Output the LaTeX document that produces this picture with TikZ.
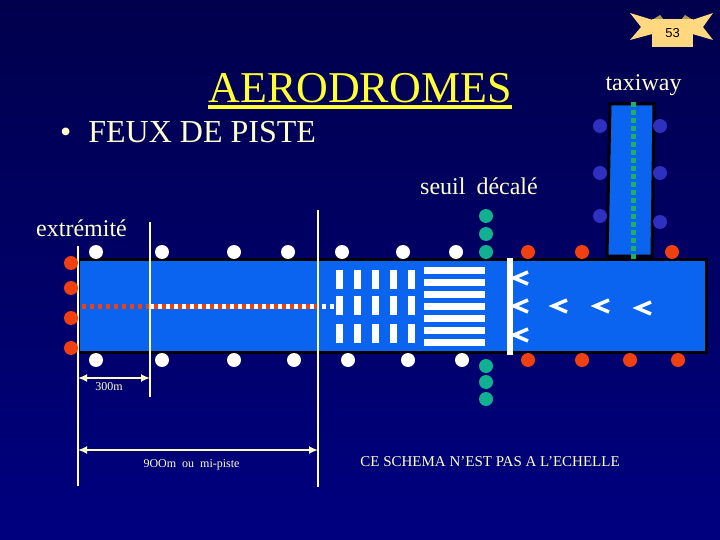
\documentclass[tikz,border=0pt]{standalone}
\usepackage{fontspec}
\setmainfont{Liberation Serif}
\setsansfont{Liberation Sans}
\usetikzlibrary{arrows.meta}
\definecolor{paletop}{HTML}{FFFFCC}
\definecolor{titleyellow}{HTML}{FFFF33}
\definecolor{pistefill}{HTML}{0A64F0}
\definecolor{feurouge}{HTML}{F04010}
\definecolor{feuvert}{HTML}{10B090}
\definecolor{axevert}{HTML}{20B060}
\definecolor{feubleu}{HTML}{3030C0}
\definecolor{ruban}{HTML}{FFD880}
\tikzset{
    label text/.style={text=paletop, inner sep=0pt, font=\fontsize{24}{24}\selectfont},
    small text/.style={text=paletop, inner sep=0pt, font=\fontsize{12}{12}\selectfont},
    feu/.style={circle, minimum size=14pt, inner sep=0pt},
    piste/.style={fill=pistefill, draw=black, line width=3pt},
    repere/.style={draw=paletop, line width=2pt},
    cote/.style={draw=paletop, line width=2pt, {Latex[length=9pt,width=8pt,fill=titleyellow]}-{Latex[length=9pt,width=8pt,fill=titleyellow]}},
    chevron/.style={draw=white, line width=3.5pt}
}
\begin{document}
\begin{tikzpicture}[x=1pt, y=-1pt]

% Helper macro for a row of lights
\newcommand{\feux}[3]{% colour, y, x list
    \foreach \xf in {#3} {
        \node[feu, fill=#1] (f#1\xf) at (\xf,#2) {};
    }
}
% Helper macro for one chevron, tip on the left
\newcommand{\chevronat}[2]{% x, y
    \draw[chevron] (#1+14,#2-6) -- (#1,#2) -- (#1+14,#2+6);
}

% Background
\shade[top color=black!70!blue, bottom color=blue!50!black, middle color=blue!40!black]
    (0,0) rectangle (720,540);
\useasboundingbox (0,0) rectangle (720,540);

% Page banner
\fill[ruban] (630,13) -- (656,21) -- (656,33) -- (630,40) -- (641,27) -- cycle;
\fill[ruban] (713,13) -- (689,21) -- (689,33) -- (713,40) -- (703,27) -- cycle;
\fill[black!30!ruban] (652,20) -- (660,15) -- (664,20) -- cycle;
\fill[black!30!ruban] (693,20) -- (685,15) -- (681,20) -- cycle;
\node[fill=ruban, minimum width=41pt, minimum height=28pt, inner sep=0pt,
      font=\fontsize{13}{13}\sffamily] (numero) at (672.5,33) {53};

% Titles
\node[text=titleyellow, anchor=base, inner sep=0pt, font=\fontsize{44}{44}\selectfont] (titre) at (360,103) {AERODROMES};
\coordinate (u0) at (208,107.5);
\coordinate (u1) at (512,107.5);
\draw[titleyellow, line width=4pt] (u0) -- (u1);
\node[text=paletop, anchor=base west, inner sep=0pt, font=\fontsize{32}{32}\selectfont] (feuxpiste) at (60,143) {•\hspace{17pt}FEUX DE PISTE};

% Taxiway
\draw[piste] (610,104) -- (654,104) -- (652,256) -- (607,256) -- cycle;

% Runway
\draw[piste] (78,259) rectangle (706,352);

% Taxiway centre line
\draw[axevert, line width=5pt, dash pattern=on 5pt off 3pt] (633.5,102) -- (633.5,259);

% Runway centre line
\draw[feurouge, line width=5pt, dash pattern=on 4pt off 4pt] (82,306) -- (150,306);
\draw[white, line width=5pt] (150,306) -- (318,306);
\draw[feurouge, line width=5pt, dash pattern=on 4pt off 4pt] (154,306) -- (318,306);
\draw[white, line width=5pt, dash pattern=on 4pt off 4pt] (322,306) -- (336,306);

% Threshold marks
\foreach \xb in {336,354,372,390,408} {
    \foreach \yb in {270,296,324} {
        \fill[white] (\xb,\yb) rectangle ++(7,19);
    }
}
\foreach \yb in {267,279,291,303,315,327,339} {
    \fill[white] (424,\yb) rectangle ++(61,7);
}
\fill[white] (507,258) rectangle (513,355);

% Chevrons
\chevronat{514}{278}
\chevronat{514}{306}
\chevronat{514}{335}
\chevronat{553}{306}
\chevronat{595}{306}
\chevronat{637}{308}

% Reference lines and dimensions
\coordinate (a0) at (78,246);
\coordinate (a1) at (78,486);
\coordinate (b0) at (150,222);
\coordinate (b1) at (150,397);
\coordinate (c0) at (318,210);
\coordinate (c1) at (318,487);
\draw[repere] (a0) -- (a1);
\draw[repere] (b0) -- (b1);
\draw[repere] (c0) -- (c1);
\coordinate (d0) at (78,378);
\coordinate (d1) at (150,378);
\coordinate (e0) at (78,450);
\coordinate (e1) at (318,450);
\draw[cote] (d0) -- (d1);
\draw[cote] (e0) -- (e1);

% Lights
\feux{white}{252}{96,162,234,288,342,403,456}
\feux{white}{360}{96,162,234,294,348,408,462}
\foreach \yf in {263,288,318,348} {
    \node[feu, fill=feurouge] (g\yf) at (71,\yf) {};
}
\feux{feurouge}{252}{528,582,672}
\feux{feurouge}{360}{528,582,630,678}
\foreach \yf in {216,234,252} {
    \node[feu, fill=feuvert] (h\yf) at (486,\yf) {};
}
\foreach \yf in {366,382,399} {
    \node[feu, fill=feuvert] (k\yf) at (486,\yf) {};
}
\foreach \yf in {126,173,216} {
    \node[feu, fill=feubleu] (l\yf) at (600,\yf) {};
}
\foreach \yf in {126,173,222} {
    \node[feu, fill=feubleu] (r\yf) at (660,\yf) {};
}

% Labels
\node[label text] (taxiway) at (643.5,85) {taxiway};
\node[label text] (seuil) at (479,186) {seuil\hspace{11pt}décalé};
\node[label text] (extremite) at (81.5,228) {extrémité};
\node[small text] (l300) at (109,387) {300m};
\node[small text] (l900) at (191.5,465) {9OOm\hspace{6pt}ou\hspace{6pt}mi-piste};
\node[text=paletop, inner sep=0pt, font=\fontsize{15}{15}\selectfont] (echelle) at (490,462) {CE SCHEMA N’EST PAS A L’ECHELLE};

\end{tikzpicture}
\end{document}
